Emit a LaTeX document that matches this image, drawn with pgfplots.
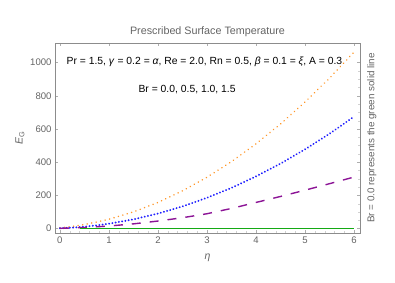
\documentclass[border=0pt]{standalone}
\usepackage{pgfplots}
\pgfplotsset{compat=1.18}
\usepackage{fontspec}
\setmainfont{Liberation Sans}
\definecolor{tgray}{RGB}{100,100,100}
\definecolor{agray}{RGB}{140,140,140}
\definecolor{corange}{RGB}{255,150,40}
\definecolor{cblue}{RGB}{30,30,255}
\definecolor{cpurple}{RGB}{140,20,150}
\definecolor{cgreen}{RGB}{20,170,20}
\begin{document}
\begin{tikzpicture}
\useasboundingbox (-55bp,-50bp) rectangle (340bp,233bp);
\begin{axis}[
  scale only axis, width=305bp, height=190bp,
  at={(0,0)}, anchor=south west,
  xmin=-0.1, xmax=6.12, ymin=-26, ymax=1118,
  xtick={0,1,2,3,4,5,6}, ytick={0,200,400,600,800,1000},
  axis line style={agray, line width=0.6pt},
  major tick style={agray!70, line width=0.4pt},
  minor tick style={agray!40, line width=0.3pt},
  major tick length=3bp,
  minor x tick num=4, minor y tick num=3,
  minor tick length=1.5bp,
  tick pos=both,
  ticklabel style={font=\fontsize{9.6}{11}\selectfont, text=tgray},
  /pgf/number format/assume math mode=true,
  /pgf/number format/1000 sep={},
  clip=false,
]
\addplot[corange, line width=1.7pt, dash pattern=on 0.01pt off 4.6pt, line cap=round] coordinates {
(0,5) (0.25,13) (0.5,25) (0.75,40) (1,57) (1.5,101) (2,158) (2.5,228) (3,310) (3.5,404) (4,511) (4.5,631) (5,763) (5.5,907) (6,1064)};
\addplot[cblue, line width=2.1pt, dash pattern=on 0.01pt off 3.3pt, line cap=round] coordinates {
(0,3) (0.25,6) (0.5,12) (0.75,20) (1,30) (1.5,56) (2,91) (2.5,134) (3,186) (3.5,246) (4,315) (4.5,392) (5,478) (5.5,572) (6,675)};
\addplot[cpurple, line width=1.4pt, dash pattern=on 9bp off 9bp] coordinates {
(0,2) (0.5,7) (1,16) (1.5,29) (2,46) (2.5,66) (3,90) (3.5,122) (4,158) (4.5,194) (5,232) (5.5,271) (6,311)};
\addplot[cgreen, line width=1.4pt] coordinates {(0.4,0) (6,0)};
\node[font=\fontsize{10.4}{12}\selectfont] at (rel axis cs:0.49,0.9) {Pr = 1.5, \textit{γ} = 0.2 = \textit{α}, Re = 2.0, Rn = 0.5, \textit{β} = 0.1 = \textit{ξ}, A = 0.3};
\node[font=\fontsize{10.4}{12}\selectfont] at (rel axis cs:0.433,0.753) {Br = 0.0, 0.5, 1.0, 1.5};
\node[font=\fontsize{10.8}{12}\selectfont, text=tgray] at (rel axis cs:0.5,1.058) {Prescribed Surface Temperature};
\node[font=\fontsize{9.9}{11}\selectfont, text=tgray, rotate=90] at (rel axis cs:1.039,0.5) {Br = 0.0 represents the green solid line};
\node[font=\fontsize{10.5}{11}\selectfont, text=tgray] at (rel axis cs:0.5,-0.13) {\textit{η}};
\node[font=\fontsize{10.5}{11}\selectfont, text=tgray, rotate=90] at (rel axis cs:-0.115,0.5) {\textit{E}\textsubscript{G}};
\end{axis}
\end{tikzpicture}
\end{document}
